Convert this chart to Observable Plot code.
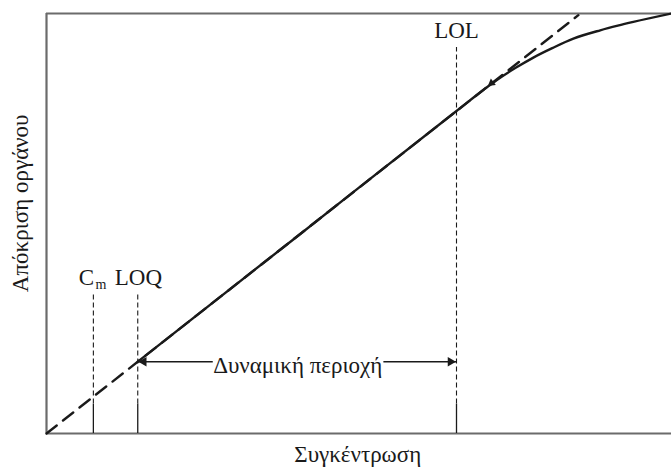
<!DOCTYPE html>
<html>
<head>
<meta charset="utf-8">
<script src="https://cdn.jsdelivr.net/npm/d3@7"></script>
<script src="https://cdn.jsdelivr.net/npm/@observablehq/plot@0.6"></script>
<style>
  html, body { margin: 0; padding: 0; background: #fff; }
  svg text { font-family: "Liberation Serif", "DejaVu Serif", serif; }
</style>
</head>
<body>
<div id="chart"></div>
<script>
// Limits on the concentration axis (arbitrary units)
const limitNames = ["Cm", "LOQ", "LOL"];
const limitX = [0.75, 1.46, 6.56];
const limitTop = [3.33, 3.33, 9.19];
const tickTop = 0.7;

// Ideal linear response (dashed)
const idealX = [0, 8.51];
const idealY = [0, 9.96];

// Actual instrument response (solid)
const respX = [1.46, 4.0, 6.56, 7.0, 7.2, 7.5, 7.79, 8.1, 8.43, 8.86, 9.14, 9.39, 10.0];
const respY = [1.71, 4.68, 7.68, 8.19, 8.41, 8.70, 8.95, 9.18, 9.40, 9.60, 9.71, 9.80, 10.0];

// Dynamic range
const rangeY = 1.71;
const rangeTextX = [2.66, 5.39];
const rangeLabel = "Δυναμική περιοχή";
const xTitle = "Συγκέντρωση";
const yTitle = "Απόκριση οργάνου";

const ideal = idealX.map((x, i) => ({x, y: idealY[i]}));
const resp = respX.map((x, i) => ({x, y: respY[i]}));
const limits = limitNames.map((name, i) => ({name, x: limitX[i], top: limitTop[i]}));

const serif = "Liberation Serif, DejaVu Serif, serif";
const ink = "#1a1a1a";
const fs = 23;

const chart = Plot.plot({
  width: 671,
  height: 468,
  marginLeft: 46,
  marginRight: 0,
  marginTop: 13,
  marginBottom: 35,
  x: {domain: [0, 10], axis: null},
  y: {domain: [0, 10], axis: null},
  style: {fontFamily: serif, background: "#fff", overflow: "visible"},
  marks: [
    // frame: top, bottom and left
    Plot.ruleY([0, 10], {stroke: "#6b6b6b", strokeWidth: 2.2}),
    Plot.ruleX([0], {stroke: "#6b6b6b", strokeWidth: 2.2}),
    // vertical limit lines: dashed upper part, solid tick at bottom
    Plot.ruleX(limits, {x: "x", y1: tickTop, y2: "top", stroke: ink, strokeWidth: 1.1, strokeDasharray: "5,3"}),
    Plot.ruleX(limits, {x: "x", y1: 0, y2: tickTop, stroke: ink, strokeWidth: 1.3}),
    // ideal linear response
    Plot.line(ideal, {x: "x", y: "y", stroke: ink, strokeWidth: 2.4, strokeDasharray: "13,8"}),
    // actual response
    Plot.line(resp, {x: "x", y: "y", stroke: ink, strokeWidth: 2.4, curve: "monotone-x"}),
    // small arrowhead on the curve
    Plot.dot([{x: 7.12, y: 8.34}], {x: "x", y: "y", symbol: "triangle", r: 3, fill: ink, rotate: 232}),
    // dynamic range arrow (two segments either side of the label)
    Plot.link([{x1: limitX[1], x2: rangeTextX[0]}, {x1: rangeTextX[1], x2: limitX[2]}],
      {x1: "x1", x2: "x2", y1: rangeY, y2: rangeY, stroke: ink, strokeWidth: 1.4}),
    Plot.dot([{x: limitX[1], y: rangeY}], {x: "x", y: "y", symbol: "triangle", r: 3.5, fill: ink, rotate: 270, dx: 6}),
    Plot.dot([{x: limitX[2], y: rangeY}], {x: "x", y: "y", symbol: "triangle", r: 3.5, fill: ink, rotate: 90, dx: -6}),
    Plot.text([rangeLabel], {x: 4.02, y: 1.62, text: d => d, fontSize: fs, fill: ink}),
    // limit labels
    Plot.text(["C"], {x: 0.64, y: 3.72, text: d => d, fontSize: fs, fill: ink}),
    Plot.text(["m"], {x: 0.87, y: 3.55, text: d => d, fontSize: 14, fill: ink}),
    Plot.text(["LOQ"], {x: 1.47, y: 3.72, text: d => d, fontSize: fs, fill: ink}),
    Plot.text(["LOL"], {x: 6.56, y: 9.6, text: d => d, fontSize: fs, fill: ink}),
    // axis titles
    Plot.text([xTitle], {x: 4.98, y: -0.5, text: d => d, fontSize: fs, fill: ink}),
    Plot.text([yTitle], {x: -0.42, y: 5.48, text: d => d, fontSize: fs, fill: ink, rotate: -90})
  ]
});
document.getElementById("chart").append(chart);
</script>
</body>
</html>
